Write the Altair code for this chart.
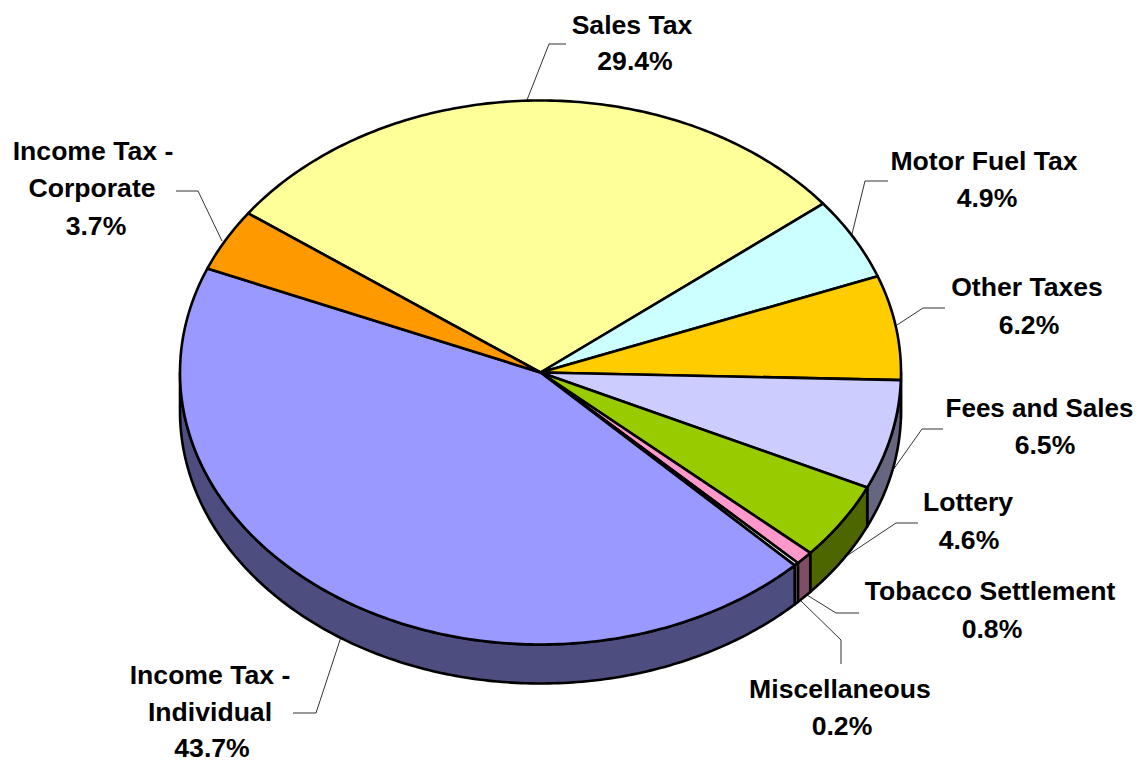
import math
import altair as alt
import pandas as pd

# --- chart values -----------------------------------------------------------
categories = ["Sales Tax", "Motor Fuel Tax", "Other Taxes", "Fees and Sales", "Lottery",
              "Tobacco Settlement", "Miscellaneous", "Income Tax - Individual", "Income Tax - Corporate"]
shares = [29.4, 4.9, 6.2, 6.5, 4.6, 0.8, 0.2, 43.7, 3.7]
top_colors = ["#FFFF99", "#CCFFFF", "#FFCC00", "#CCCCFF", "#99CC00", "#FF99CC", "#FFFFFF", "#9999FF", "#FF9900"]
side_colors = ["#808050", "#668080", "#806600", "#666680", "#4D6600", "#804D66", "#808080", "#4D4D80", "#804D00"]
label_lines = [["Sales Tax", "29.4%"], ["Motor Fuel Tax", "4.9%"], ["Other Taxes", "6.2%"],
               ["Fees and Sales", "6.5%"], ["Lottery", "4.6%"], ["Tobacco Settlement", "0.8%"],
               ["Miscellaneous", "0.2%"], ["Income Tax -", "Individual", "43.7%"],
               ["Income Tax -", "Corporate", "3.7%"]]

# --- layout (page pixels) ---------------------------------------------------
CX, CY, RX, RY, DEPTH = 540.5, 372.5, 360.5, 272.0, 39.0
START = -54.2
W, H = 1126, 756
label_pos = [[(632, 26), (635, 62)], [(984, 162), (987, 199)], [(1027, 288), (1029, 326)],
             [(1039.5, 409), (1045, 446)], [(968, 503), (969, 541)], [(990, 592), (992, 630)],
             [(840, 690), (842, 727)], [(210, 676), (210, 713), (212, 749)],
             [(93, 152), (92, 189), (96, 227)]]
leaders = [[(527, 100), (549, 44), (566, 44)], [(852, 234), (865, 181), (888, 181)],
           [(897, 325), (923, 308), (945, 308)], [(893, 470), (922, 429), (943, 429)],
           [(845, 557), (896, 523), (918, 523)], [(807, 595), (836, 613), (859, 613)],
           [(800, 600), (841, 640), (841, 664)], [(341, 637), (316, 713), (293, 713)],
           [(222, 241), (198, 191), (176, 191)]]


def rim(a, dy=0.0):
    r = math.radians(a)
    return CX + RX * math.sin(r), CY - RY * math.cos(r) + dy


def arc_pts(a0, a1, dy=0.0):
    n = max(2, int(abs(a1 - a0) / 0.75) + 2)
    return [rim(a0 + (a1 - a0) * i / (n - 1), dy) for i in range(n)]


tops, sides = [], []
a = START
for name, share, tc, sc in zip(categories, shares, top_colors, side_colors):
    a1 = a + share * 3.6
    pts = [(CX, CY)] + arc_pts(a, a1)
    tops += [dict(name=name, i=i, x=x, y=y, c=tc) for i, (x, y) in enumerate(pts)]
    s0, s1 = max(a, 90), min(a1, 270)
    if s1 > s0:
        pts = arc_pts(s0, s1) + arc_pts(s1, s0, DEPTH)
        sides += [dict(name=name, i=i, x=x, y=y, c=sc) for i, (x, y) in enumerate(pts)]
    a = a1

leader_rows = [dict(name=n, i=i, x=x, y=y) for n, l in zip(categories, leaders) for i, (x, y) in enumerate(l)]
label_rows = [dict(t=t, x=x, y=y, s=26.0 if t == "Fees and Sales" else 26.6)
              for ls, ps in zip(label_lines, label_pos) for t, (x, y) in zip(ls, ps)]

xs = alt.Scale(domain=[8, 8 + W], range=[0, W], nice=False, zero=False)
ys = alt.Scale(domain=[8, 8 + H], range=[0, H], nice=False, zero=False)
X = alt.X("x:Q", scale=xs, axis=None)
Y = alt.Y("y:Q", scale=ys, axis=None)


def polys(rows):
    return alt.Chart(pd.DataFrame(rows)).mark_line(
        interpolate="linear-closed", stroke="black", strokeWidth=2.6, strokeJoin="round", clip=False
    ).encode(X, Y, alt.Fill("c:N", scale=None), detail="name:N", order="i:Q")


leader_layer = alt.Chart(pd.DataFrame(leader_rows)).mark_line(stroke="#333333", strokeWidth=1).encode(
    X, Y, detail="name:N", order="i:Q")
text_layer = alt.Chart(pd.DataFrame(label_rows)).mark_text(
    font="Liberation Sans", fontWeight="bold", color="black", align="center", baseline="middle"
).encode(X, Y, text="t:N", size=alt.Size("s:Q", scale=None, legend=None))

chart = alt.layer(leader_layer, polys(sides), polys(tops), text_layer).properties(
    width=W, height=H, padding=0, autosize=alt.AutoSizeParams(type="none")
).configure_view(stroke=None)

chart.save("out.html", embed_options={"renderer": "svg", "actions": False})
